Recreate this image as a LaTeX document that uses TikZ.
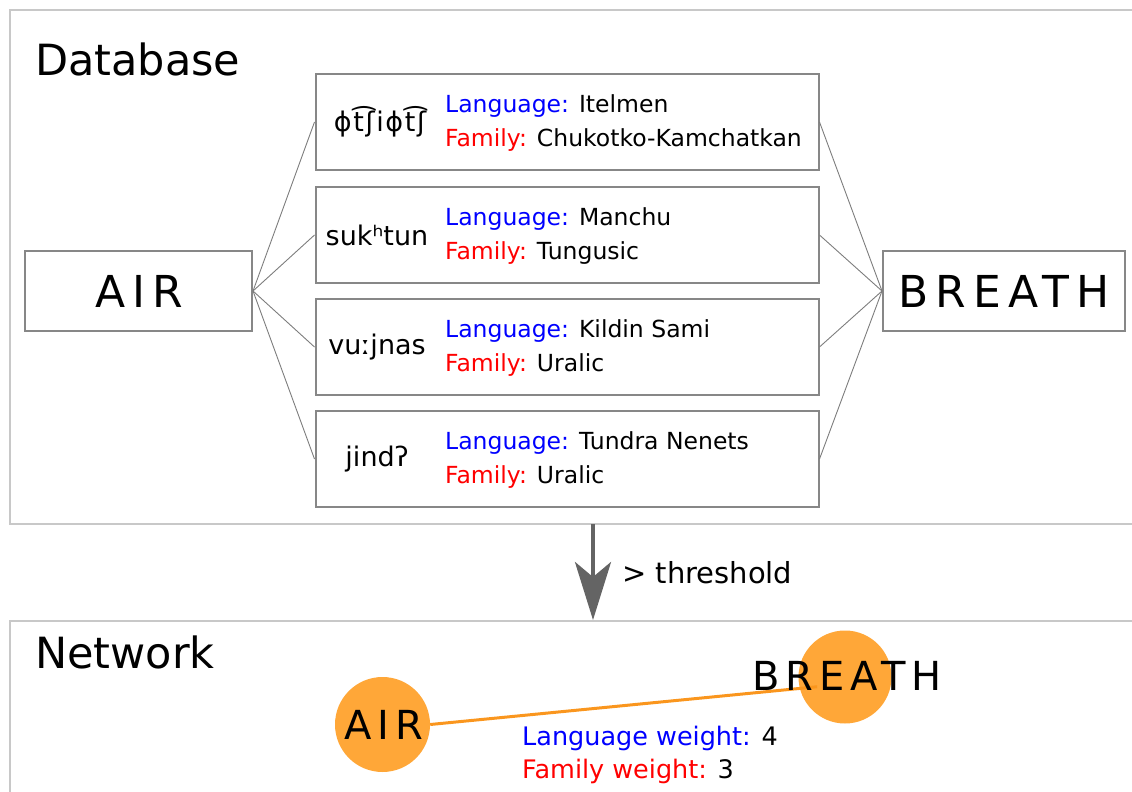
\documentclass[tikz,border=0pt]{standalone}
\usepackage{fontspec}
\setmainfont{DejaVu Sans}
\newfontfamily\spacedfont[LetterSpace=16]{DejaVu Sans}
\newfontfamily\netspacedfont[LetterSpace=15]{DejaVu Sans}
\newfontfamily\ipawide[LetterSpace=6]{DejaVu Sans}
\usetikzlibrary{arrows.meta}
\definecolor{framegray}{RGB}{200,200,200}
\definecolor{boxgray}{RGB}{135,135,135}
\definecolor{linegray}{RGB}{125,125,125}
\definecolor{arrowgray}{RGB}{100,100,100}
\definecolor{nodeorange}{RGB}{255,167,56}
\definecolor{edgeorange}{RGB}{250,150,30}
\definecolor{langblue}{RGB}{0,0,255}
\definecolor{famred}{RGB}{255,0,0}
\tikzset{
  panel/.style={draw=framegray,line width=2.5pt},
  wordbox/.style={draw=boxgray,line width=2pt,minimum width=503pt,minimum height=96pt,inner sep=0pt},
  conceptbox/.style={draw=boxgray,line width=2pt,minimum height=80pt,inner sep=0pt,font=\spacedfont\fontsize{44}{50}\selectfont},
  ipa/.style={inner sep=0pt,font=\fontsize{27}{32}\selectfont},
  info/.style={inner sep=0pt,anchor=base west,font=\fontsize{23.5}{28}\selectfont},
  title/.style={inner sep=0pt,anchor=base west,font=\fontsize{43}{50}\selectfont},
  conn/.style={draw=linegray,line width=0.9pt},
  thr/.style={draw=arrowgray,line width=4pt,-{Stealth[length=58pt,width=36pt,inset=15pt]}},
  netnode/.style={circle,fill=nodeorange,inner sep=0pt},
  nettext/.style={inner sep=0pt,font=\netspacedfont\fontsize{40}{48}\selectfont},
  netedge/.style={draw=edgeorange,line width=3pt},
  weight/.style={inner sep=0pt,anchor=base west,font=\fontsize{25.5}{30}\selectfont},
}
\begin{document}
\begin{tikzpicture}[x=1pt,y=-1pt]
\useasboundingbox (0,0) rectangle (1132,792);
\clip (0,0) rectangle (1132,792);
% panels
\draw[panel] (10,10) rectangle (1145,524);
\draw[panel] (10,621) rectangle (1145,810);
\node[title] (dbt) at (35,75) {Database};
\node[title] (nwt) at (35,668) {Network};
% concept boxes
\node[conceptbox,minimum width=227pt] (air) at (138.5,291) {\hspace*{1pt}AIR};
\node[conceptbox,minimum width=242pt] (breath) at (1004,291) {BREATH};
% word boxes
\foreach \i/\c in {1/122,2/235,3/347,4/459}{
  \node[wordbox] (w\i) at (567,\c) {};
}
\node[ipa,font=\ipawide\fontsize{27}{32}\selectfont,xshift=3pt] (f1) at (377,122) {ɸt͡ʃiɸt͡ʃ};
\node[ipa] (f2) at (377,235) {sukʰtun};
\node[ipa] (f3) at (377,347) {vuːjnas};
\node[ipa] (f4) at (377,459) {jindʔ};
\node[info] (l1) at (445,112) {\textcolor{langblue}{Language:} Itelmen};
\node[info] (m1) at (445,146) {\textcolor{famred}{Family:} Chukotko-Kamchatkan};
\node[info] (l2) at (445,225) {\textcolor{langblue}{Language:} Manchu};
\node[info] (m2) at (445,259) {\textcolor{famred}{Family:} Tungusic};
\node[info] (l3) at (445,337) {\textcolor{langblue}{Language:} Kildin Sami};
\node[info] (m3) at (445,371) {\textcolor{famred}{Family:} Uralic};
\node[info] (l4) at (445,449) {\textcolor{langblue}{Language:} Tundra Nenets};
\node[info] (m4) at (445,483) {\textcolor{famred}{Family:} Uralic};
% connectors
\foreach \i in {1,2,3,4}{
  \draw[conn] (air.east) -- (w\i.west);
  \draw[conn] (w\i.east) -- (breath.west);
}
% threshold arrow
\coordinate (dbbottom) at (593,524);
\coordinate (nettop) at (593,620);
\draw[thr] (dbbottom) -- (nettop);
\node[inner sep=0pt,anchor=base west,font=\fontsize{29}{34}\selectfont] (thrl) at (622,583) {> threshold};
% network
\node[netnode,minimum size=95pt] (nair) at (382.5,724.5) {};
\node[netnode,minimum size=93pt] (nbreath) at (845,677) {};
\draw[netedge,shorten >=28pt] (nair.east) -- ([yshift=-7pt]nbreath.center);
\node[nettext,xshift=1pt] (tair) at (nair) {AIR};
\node[nettext,xshift=2pt,yshift=1pt] (tbreath) at (nbreath) {BREATH};
\node[weight] (lw) at (522,745) {\textcolor{langblue}{Language weight:} 4};
\node[weight] (fw) at (522,778) {\textcolor{famred}{Family weight:} 3};
\end{tikzpicture}
\end{document}
